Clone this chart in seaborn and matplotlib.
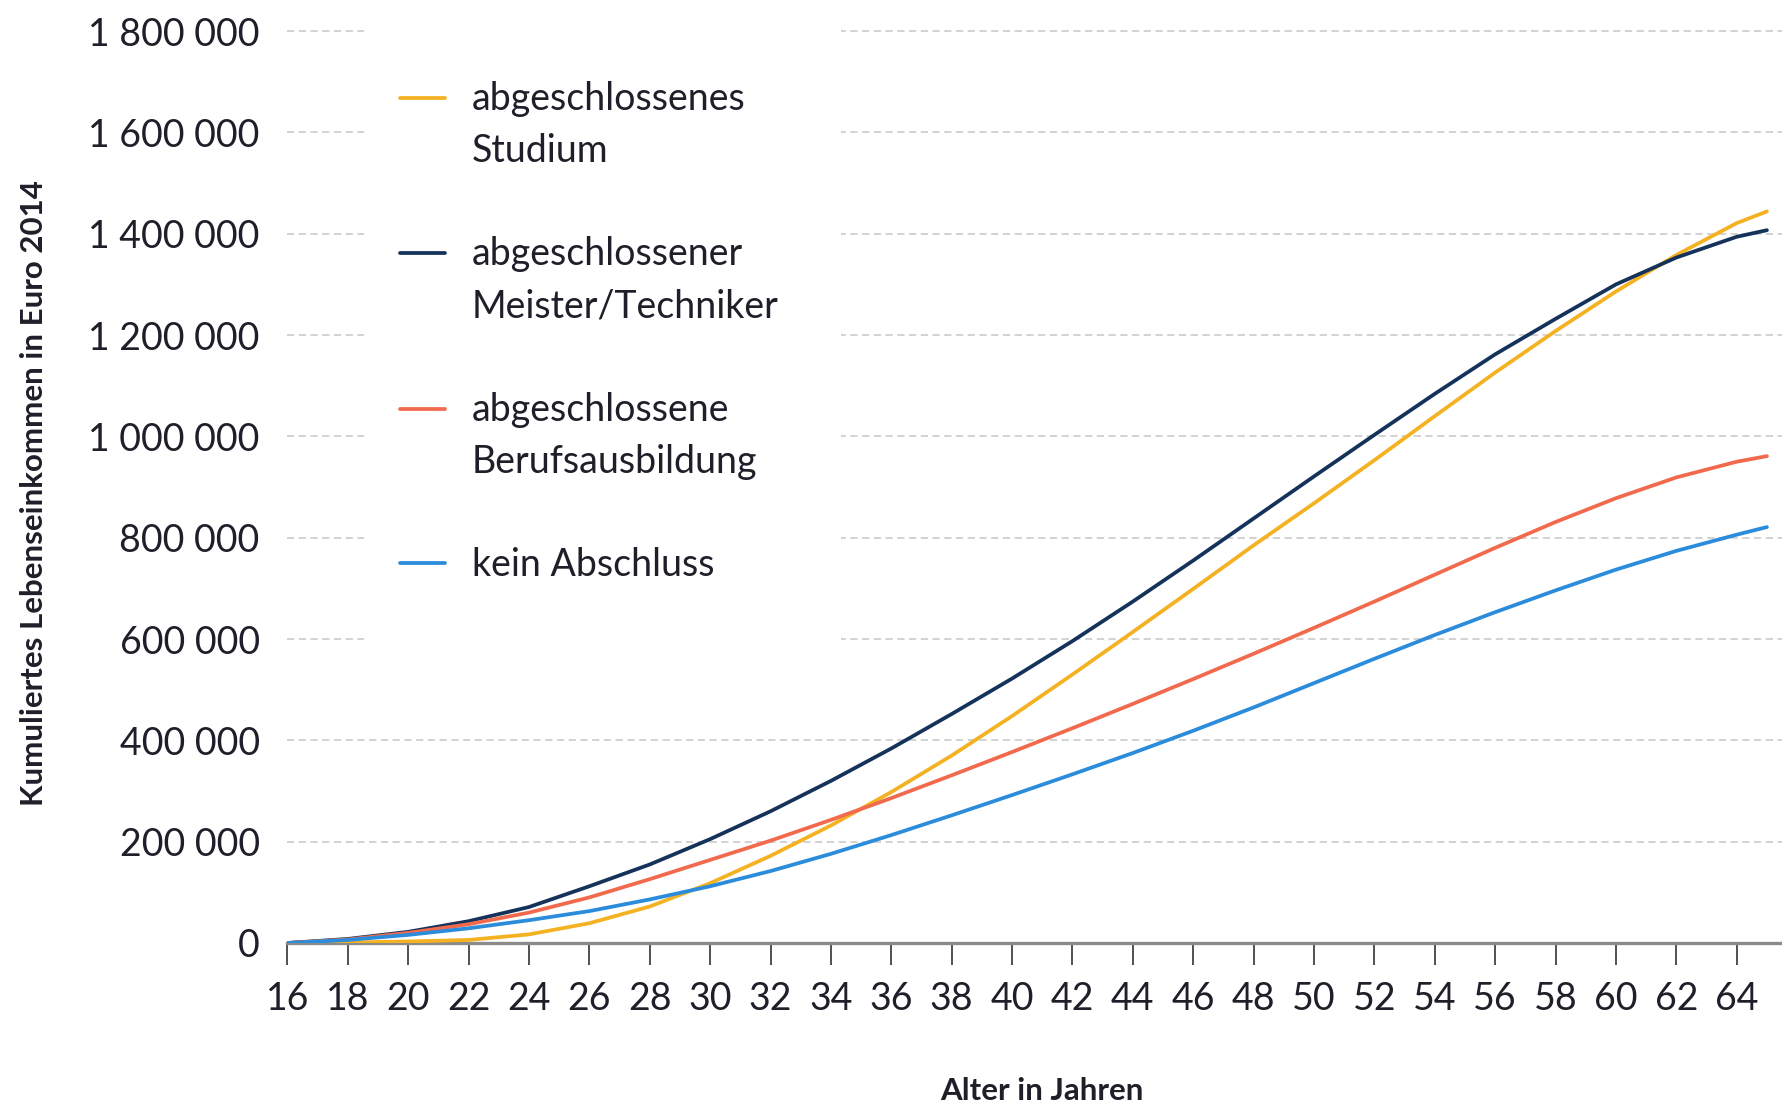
import matplotlib
matplotlib.use("Agg")
import matplotlib.pyplot as plt
import matplotlib.transforms as mtransforms
from matplotlib.legend_handler import HandlerLine2D
from matplotlib.patches import Rectangle
from matplotlib.ticker import FuncFormatter, MultipleLocator
import seaborn as sns
import pandas as pd

ages = [16, 18, 20, 22, 24, 26, 28, 30, 32, 34, 36, 38, 40,
        42, 44, 46, 48, 50, 52, 54, 56, 58, 60, 62, 64, 65]
studium = [0, 1, 3, 6, 17, 39, 72, 118, 172, 232, 298, 370, 448,
           530, 614, 699, 785, 868, 953, 1040, 1126, 1208, 1286, 1358, 1421, 1444]
meister = [0, 8, 22, 43, 71, 112, 155, 205, 260, 320, 384, 452, 522,
           596, 674, 755, 838, 921, 1003, 1084, 1162, 1232, 1300, 1353, 1394, 1407]
beruf = [0, 7, 20, 37, 60, 90, 126, 164, 202, 243, 286, 331, 377,
         424, 472, 521, 571, 622, 674, 727, 780, 831, 878, 919, 950, 961]
kein = [0, 6, 16, 29, 45, 63, 86, 112, 142, 176, 213, 252, 292,
        333, 375, 419, 465, 513, 561, 608, 653, 696, 737, 774, 806, 821]

labels = ["abgeschlossenes\nStudium", "abgeschlossener\nMeister/Techniker",
          "abgeschlossene\nBerufsausbildung", "kein Abschluss"]
colors = ["#F4B223", "#14325A", "#F26A4D", "#2B8CDB"]

df = pd.concat([
    pd.DataFrame({"Alter": ages, "Einkommen": [v * 1000 for v in vals], "Gruppe": lab})
    for vals, lab in zip([studium, meister, beruf, kein], labels)
])

sns.set_theme(style="white")
plt.rcParams["font.family"] = ["Lato", "DejaVu Sans"]

fig = plt.figure(figsize=(17.82, 11.03), dpi=100)
ax = fig.add_axes([0.1613, 0.14506, 1 - 0.1613, 0.9764 - 0.14506])

sns.lineplot(data=df, x="Alter", y="Einkommen", hue="Gruppe", hue_order=labels,
             palette=colors, linewidth=2.7, legend=False, ax=ax, zorder=3)
for l in ax.get_lines():
    l.set_solid_joinstyle("round")

ax.set_xlim(16, 65.5)
ax.set_ylim(0, 1810000)
ax.xaxis.set_major_locator(MultipleLocator(2))
ax.yaxis.set_major_locator(MultipleLocator(200000))
ax.yaxis.set_major_formatter(FuncFormatter(lambda v, p: f"{v:,.0f}".replace(",", " ")))

ax.set_axisbelow(True)
ax.yaxis.grid(True, linestyle=(0, (4, 2.5)), color="#cfcfcf", linewidth=1.3)
ax.xaxis.grid(False)

for s in ["top", "right", "left"]:
    ax.spines[s].set_visible(False)
ax.spines["bottom"].set_color("#8a8a8a")
ax.spines["bottom"].set_linewidth(2.4)

ax.tick_params(axis="x", direction="out", length=16, width=1.2, color="#333333",
               labelsize=27, pad=11.5, labelcolor="#1f1f2a", bottom=True)
ax.tick_params(axis="y", length=0, labelsize=27, pad=20, labelcolor="#1f1f2a")

ax.set_xlabel("Alter in Jahren", fontsize=22.5, fontweight="bold", color="#1f1f2a")
ax.set_ylabel("Kumuliertes Lebenseinkommen in Euro 2014", fontsize=22.5,
              fontweight="bold", color="#1f1f2a")
ax.xaxis.set_label_coords(0.505, -0.146)
ax.yaxis.set_label_coords(-0.160, 0.491)

# white box behind the legend hides the gridlines
ax.add_patch(Rectangle((0.0512, 0.26), 0.319, 0.76, transform=ax.transAxes,
                       facecolor="white", edgecolor="none", zorder=1, clip_on=False))


class TopLineHandler(HandlerLine2D):
    # put the legend line next to the first line of a two-line label
    def create_artists(self, legend, orig_handle, xdescent, ydescent, width, height,
                       fontsize, trans):
        n = orig_handle.get_label().count("\n")
        shift = mtransforms.Affine2D().translate(0, n * 0.76 * fontsize)
        artists = super().create_artists(legend, orig_handle, xdescent, ydescent,
                                         width, height, fontsize, shift + trans)
        return artists


handles = ax.get_lines()[:4]
for h, lab in zip(handles, labels):
    h.set_label(lab)
leg = ax.legend(handles=handles, labels=labels, loc="upper left",
                bbox_to_anchor=(0.0753, 0.94), frameon=False, fontsize=27,
                handlelength=1.2, handletextpad=0.72, labelspacing=1.8,
                borderpad=0, borderaxespad=0,
                handler_map={h: TopLineHandler() for h in handles})
for t in leg.get_texts():
    t.set_linespacing(1.55)
    t.set_color("#1f1f2a")
for l in leg.get_lines():
    l.set_linewidth(2.7)

fig.savefig("out.png", dpi=100)
